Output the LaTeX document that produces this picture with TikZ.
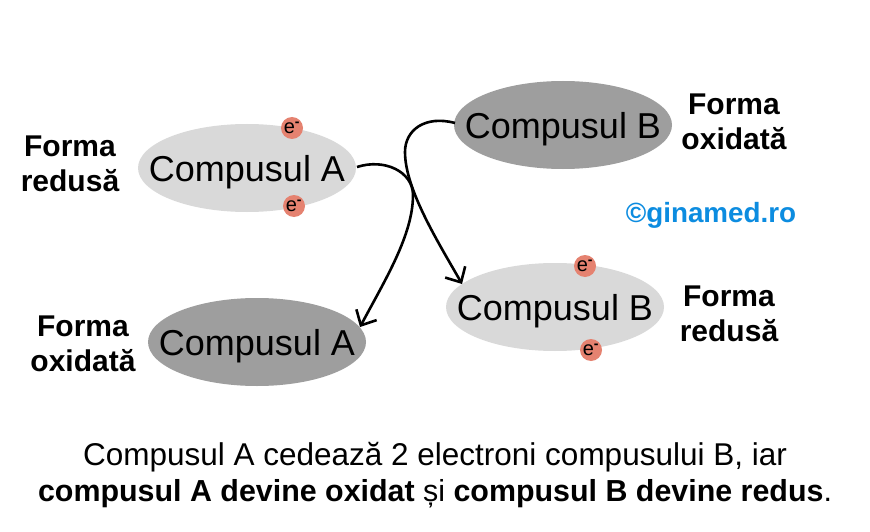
\documentclass[tikz,border=0pt]{standalone}
\usepackage{fontspec}
\setmainfont{Liberation Sans}
\usetikzlibrary{arrows.meta}
\usetikzlibrary{shapes.geometric}
\definecolor{lightgray}{HTML}{D9D9D9}
\definecolor{darkgray}{HTML}{9E9E9E}
\definecolor{electron}{HTML}{E58270}
\definecolor{sitecolor}{HTML}{0C8CE0}
\newcommand{\compustext}[1]{\raisebox{-13.5pt}[0pt][0pt]{\makebox[0pt]{#1}}}
\newcommand{\electrontext}{e\textsuperscript{\textbf{-}}}
\tikzset{
	compus/.style={ellipse,minimum width=218pt,minimum height=88pt,inner sep=0pt,font=\fontsize{36}{36}\selectfont},
	redus/.style={compus,fill=lightgray},
	oxidat/.style={compus,fill=darkgray},
	elec/.style={circle,fill=electron,minimum size=22pt,inner sep=0pt,font=\fontsize{20}{20}\selectfont},
	forma/.style={align=center,font=\fontsize{30}{35}\selectfont\bfseries},
	flow/.style={line width=2.6pt,-{Straight Barb[length=12pt,width=23pt,line width=2.6pt]}}
	}

\begin{document}
\begin{tikzpicture}[x=1pt,y=-1pt]
	\useasboundingbox (0,0) rectangle (870,532);
	\fill[white] (0,0) rectangle (870,532);

	\node[redus] (Ared) at (247,168) {\compustext{Compusul A}};
	\node[oxidat] (Box) at (563,125) {\compustext{Compusul B}};
	\node[oxidat] (Aox) at (257,342) {\compustext{Compusul A}};
	\node[redus] (Bred) at (555,307) {\compustext{Compusul B}};

	\node[elec] (e1) at (292,128) {\electrontext};
	\node[elec] (e2) at (294,206) {\electrontext};
	\node[elec] (e3) at (585,266) {\electrontext};
	\node[elec] (e4) at (591,350) {\electrontext};

	\node[forma] (f1) at (70,164) {Forma\\redusă};
	\node[forma] (f2) at (734,122) {Forma\\oxidată};
	\node[forma] (f3) at (83,344) {Forma\\oxidată};
	\node[forma] (f4) at (729,314) {Forma\\redusă};

	\node[font=\fontsize{27.8}{28}\selectfont\bfseries,text=sitecolor] (site) at (711,215) {©ginamed.ro};
	\node[font=\fontsize{31.5}{32}\selectfont] (text1) at (435,457) {Compusul A cedează 2 electroni compusului B, iar};
	\node[font=\fontsize{30.4}{32}\selectfont] (text2) at (435,494) {\textbf{compusul A devine oxidat} și \textbf{compusul B devine redus}.};

	\coordinate (Astart) at (357,167);
	\coordinate (Aend) at (360,327);
	\coordinate (Bstart) at (455,123);
	\coordinate (Bend) at (462,284);
	\draw[flow] (Astart) .. controls (385,158) and (413,172) .. (413,195)
		.. controls (413,235) and (385,280) .. (Aend);
	\draw[flow] (Bstart) .. controls (425,115) and (405,130) .. (405,152)
		.. controls (405,190) and (440,245) .. (Bend);
\end{tikzpicture}
\end{document}
